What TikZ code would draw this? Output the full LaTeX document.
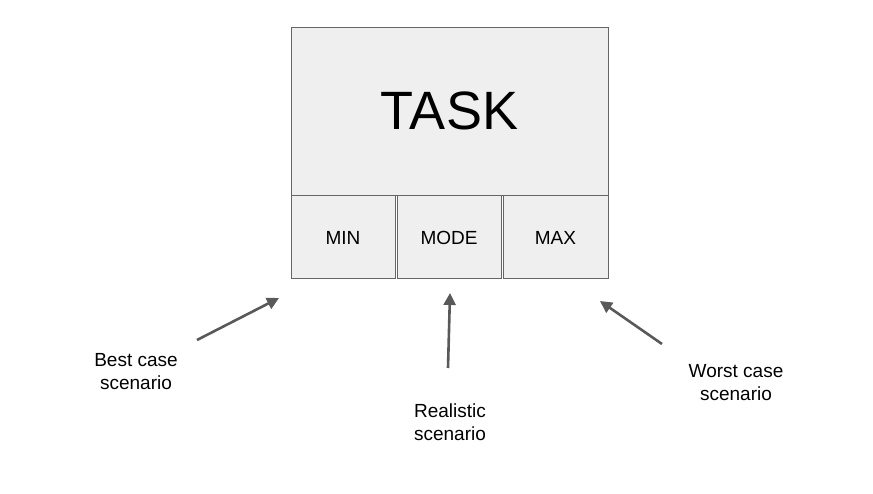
\documentclass[tikz,border=0pt]{standalone}
\usepackage{fontspec}
\setmainfont{Liberation Sans}
\usetikzlibrary{arrows.meta}
\definecolor{boxfill}{HTML}{EFEFEF}
\definecolor{boxline}{HTML}{666666}
\definecolor{arr}{HTML}{595959}
\begin{document}
\begin{tikzpicture}[x=1pt,y=-1pt,
  box/.style={draw=boxline,fill=boxfill,line width=0.8pt},
  lbl/.style={font=\fontsize{19}{23}\selectfont,align=center},
  arrow/.style={draw=arr,line width=2.6pt,-{Triangle[length=12pt,width=12pt]}}]
\useasboundingbox (0,0) rectangle (873,493);
\draw[box] (291,27) rectangle (608,195);
\node at (449.5,111) {\fontsize{54}{60}\selectfont TASK};
\draw[box] (291,195) rectangle (395,278);
\draw[box] (397,195) rectangle (501,278);
\draw[box] (503,195) rectangle (608,278);
\node[lbl] (min) at (343,238) {MIN};
\node[lbl] (mode) at (449,238) {MODE};
\node[lbl] (max) at (555.5,238) {MAX};
\coordinate (minb) at (279,298);
\coordinate (modeb) at (450,293);
\coordinate (maxb) at (600,301);
\node[lbl] (best) at (136,372) {Best case\\scenario};
\node[lbl] (real) at (450,422) {Realistic\\scenario};
\node[lbl] (worst) at (736,383) {Worst case\\scenario};
\draw[arrow] (197,340) -- (minb);
\draw[arrow] (448,368) -- (modeb);
\draw[arrow] (662,344) -- (maxb);
\end{tikzpicture}
\end{document}
